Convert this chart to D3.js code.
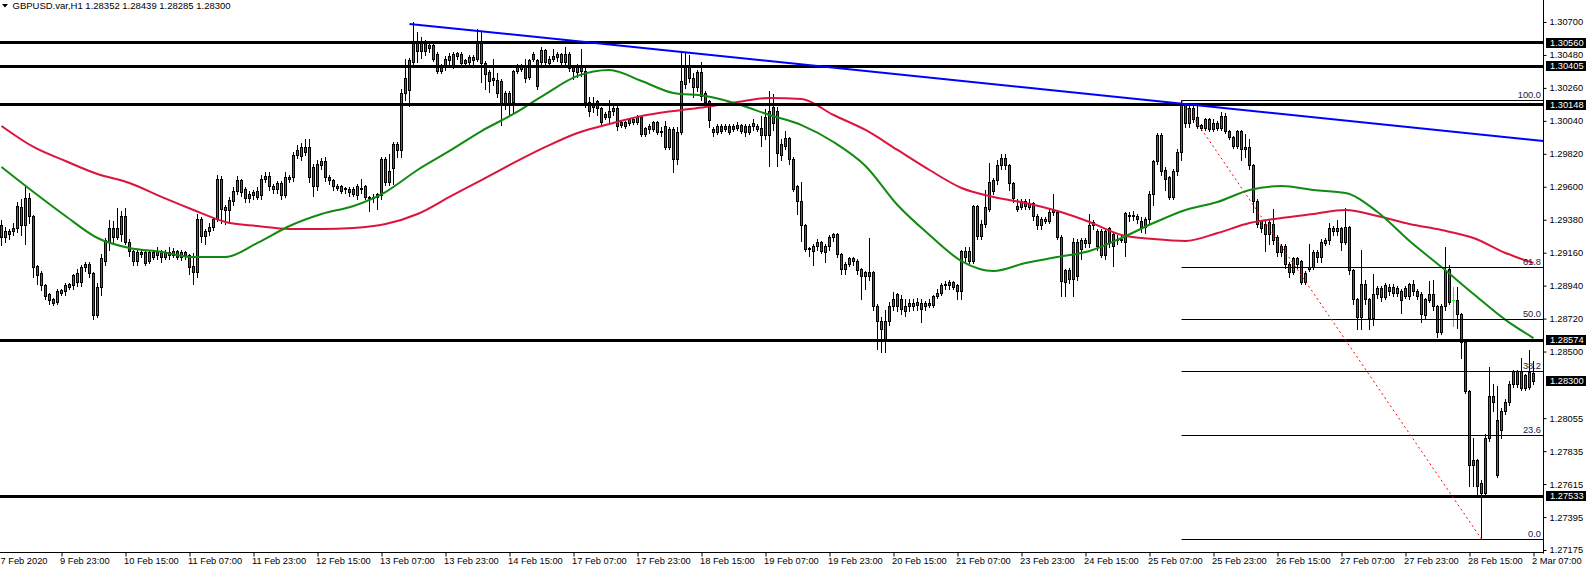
<!DOCTYPE html>
<html><head><meta charset="utf-8">
<script src="https://cdn.jsdelivr.net/npm/d3@7"></script>
<style>html,body{margin:0;padding:0;background:#fff;overflow:hidden}svg{display:block}</style>
</head><body><svg id="c" width="1586" height="568"></svg>
<script>
const open=[1.2934,1.2926,1.2928,1.2930,1.2932,1.2946,1.2934,1.2952,1.2940,1.2907,
1.2902,1.2894,1.2888,1.2885,1.2883,1.2889,1.2890,1.2893,1.2894,1.2896,
1.2896,1.2906,1.2908,1.2902,1.2874,1.2893,1.2910,1.2923,1.2932,1.2926,
1.2928,1.2940,1.2923,1.2917,1.2910,1.2915,1.2916,1.2910,1.2913,1.2914,
1.2916,1.2913,1.2916,1.2914,1.2917,1.2913,1.2916,1.2914,1.2907,1.2903,
1.2938,1.2927,1.2930,1.2933,1.2938,1.2965,1.2944,1.2944,1.2950,1.2957,
1.2964,1.2958,1.2955,1.2954,1.2953,1.2954,1.2965,1.2967,1.2958,1.2958,
1.2962,1.2954,1.2965,1.2966,1.2981,1.2980,1.2986,1.2986,1.2973,1.2960,
1.2974,1.2977,1.2966,1.2964,1.2959,1.2960,1.2958,1.2958,1.2955,1.2954,
1.2959,1.2960,1.2953,1.2952,1.2953,1.2954,1.2978,1.2963,1.2972,1.2988,
1.2984,1.3022,1.3024,1.3043,1.3056,1.3050,1.3056,1.3054,1.3054,1.3048,
1.3040,1.3040,1.3044,1.3048,1.3047,1.3048,1.3042,1.3043,1.3046,1.3045,
1.3057,1.3042,1.3036,1.3031,1.3031,1.3030,1.3015,1.3022,1.3016,1.3037,
1.3038,1.3040,1.3033,1.3048,1.3044,1.3043,1.3051,1.3042,1.3045,1.3046,
1.3048,1.3043,1.3048,1.3040,1.3036,1.3040,1.3037,1.3016,1.3013,1.3017,
1.3012,1.3008,1.3006,1.3010,1.3012,1.3003,1.3000,1.3002,1.3003,1.3003,
1.3006,1.2995,1.2998,1.2998,1.3003,1.2996,1.3000,1.2986,1.2998,1.2978,
1.2996,1.3028,1.3040,1.3032,1.3026,1.3036,1.3022,1.3017,1.2996,1.2996,
1.3000,1.2998,1.3000,1.2998,1.2999,1.3001,1.3000,1.2996,1.3000,1.2998,
1.2999,1.2994,1.3010,1.3002,1.3010,1.2981,1.2987,1.2992,1.2978,1.2960,
1.2950,1.2934,1.2919,1.2917,1.2920,1.2923,1.2916,1.2920,1.2926,1.2928,
1.2915,1.2905,1.2908,1.2912,1.2910,1.2905,1.2900,1.2903,1.2903,1.2880,
1.2870,1.2858,1.2870,1.2880,1.2880,1.2885,1.2877,1.2880,1.2880,1.2881,
1.2882,1.2880,1.2881,1.2881,1.2887,1.2889,1.2894,1.2894,1.2896,1.2894,
1.2890,1.2913,1.2917,1.2910,1.2947,1.2927,1.2935,1.2945,1.2957,1.2964,
1.2974,1.2979,1.2974,1.2962,1.2945,1.2946,1.2950,1.2946,1.2949,1.2940,
1.2934,1.2937,1.2937,1.2943,1.2943,1.2926,1.2904,1.2898,1.2898,1.2923,
1.2918,1.2922,1.2922,1.2934,1.2930,1.2930,1.2914,1.2932,1.2928,1.2924,
1.2924,1.2923,1.2940,1.2940,1.2938,1.2937,1.2933,1.2938,1.2955,1.2977,
1.2994,1.2971,1.2966,1.2953,1.2970,1.2983,1.3015,1.3002,1.3012,1.3006,
1.3001,1.2999,1.3005,1.2998,1.3002,1.2999,1.3007,1.2997,1.2993,1.2987,
1.2997,1.2985,1.2986,1.2974,1.2950,1.2937,1.2928,1.2928,1.2935,1.2926,
1.2920,1.2920,1.2908,1.2903,1.2912,1.2910,1.2896,1.2905,1.2906,1.2916,
1.2913,1.2922,1.2924,1.2930,1.2930,1.2932,1.2923,1.2933,1.2904,1.2885,
1.2873,1.2895,1.2885,1.2872,1.2888,1.2892,1.2886,1.2890,1.2893,1.2889,
1.2884,1.2887,1.2887,1.2890,1.2890,1.2888,1.2874,1.2884,1.2888,1.2880,
1.2863,1.2880,1.2905,1.2884,1.2884,1.2875,1.2856,1.2823,1.2774,1.2777,
1.2762,1.2755,1.2792,1.2820,1.2767,1.2797,1.2810,1.2816,1.2828,1.2837,
1.2837,1.2825,1.2826,1.28352];
const high=[1.2938,1.2933,1.2932,1.2936,1.2950,1.2952,1.2960,1.2956,1.2941,1.2908,
1.2904,1.2895,1.2889,1.2886,1.2892,1.2892,1.2896,1.2896,1.2902,1.2905,
1.2908,1.2910,1.2910,1.2903,1.2896,1.2915,1.2926,1.2938,1.2937,1.2946,
1.2944,1.2946,1.2925,1.2918,1.2918,1.2918,1.2918,1.2918,1.2918,1.2920,
1.2918,1.2918,1.2920,1.2919,1.2918,1.2918,1.2917,1.2915,1.2916,1.2942,
1.2940,1.2932,1.2936,1.2940,1.2968,1.2967,1.2948,1.2953,1.2960,1.2967,
1.2965,1.2960,1.2957,1.2958,1.2960,1.2968,1.2970,1.2970,1.2962,1.2964,
1.2964,1.2970,1.2968,1.2983,1.2988,1.2989,1.2992,1.2992,1.2975,1.2978,
1.2979,1.2980,1.2968,1.2965,1.2962,1.2961,1.2960,1.2960,1.2960,1.2962,
1.2965,1.2961,1.2954,1.2955,1.2956,1.2980,1.2980,1.2982,1.2990,1.2990,
1.3025,1.3045,1.3046,1.3070,1.3063,1.3060,1.3058,1.3057,1.3056,1.3050,
1.3042,1.3047,1.3049,1.3050,1.3050,1.3050,1.3045,1.3048,1.3048,1.3065,
1.3063,1.3044,1.3038,1.3045,1.3036,1.3032,1.3024,1.3024,1.3038,1.3042,
1.3042,1.3045,1.3045,1.3050,1.3045,1.3053,1.3052,1.3047,1.3052,1.3050,
1.3049,1.3053,1.3050,1.3041,1.3042,1.3052,1.3040,1.3020,1.3020,1.3018,
1.3013,1.3010,1.3018,1.3015,1.3014,1.3004,1.3004,1.3006,1.3006,1.3008,
1.3008,1.3000,1.3002,1.3004,1.3004,1.3000,1.3004,1.3000,1.3000,1.3000,
1.3050,1.3050,1.3048,1.3036,1.3038,1.3043,1.3024,1.3018,1.3000,1.3002,
1.3002,1.3002,1.3002,1.3002,1.3003,1.3002,1.3002,1.3002,1.3005,1.3002,
1.3007,1.3012,1.3024,1.3022,1.3013,1.2992,1.2997,1.2993,1.2980,1.2961,
1.2963,1.2935,1.2920,1.2922,1.2925,1.2924,1.2922,1.2928,1.2929,1.2929,
1.2916,1.2910,1.2913,1.2913,1.2912,1.2906,1.2904,1.2926,1.2904,1.2882,
1.2873,1.2878,1.2883,1.2890,1.2889,1.2888,1.2885,1.2885,1.2885,1.2886,
1.2885,1.2884,1.2885,1.2888,1.2892,1.2896,1.2897,1.2898,1.2897,1.2895,
1.2918,1.2920,1.2920,1.2948,1.2948,1.2938,1.2958,1.2976,1.2966,1.2978,
1.2982,1.2982,1.2975,1.2963,1.2952,1.2952,1.2952,1.2952,1.2950,1.2942,
1.2940,1.2940,1.2945,1.2955,1.2944,1.2928,1.2905,1.2906,1.2926,1.2925,
1.2926,1.2926,1.2942,1.2938,1.2932,1.2932,1.2932,1.2933,1.2930,1.2928,
1.2928,1.2943,1.2943,1.2944,1.2942,1.2940,1.2940,1.2957,1.2978,1.2996,
1.2996,1.2973,1.2967,1.2972,1.2985,1.30179,1.3016,1.3014,1.3014,1.3014,
1.3002,1.3006,1.3006,1.3005,1.3004,1.3010,1.3009,1.2998,1.2994,1.2998,
1.2998,1.2995,1.2992,1.2975,1.2952,1.2938,1.2937,1.2938,1.2945,1.2928,
1.2922,1.2922,1.2910,1.2913,1.2913,1.2911,1.2904,1.2922,1.2918,1.2918,
1.2925,1.2926,1.2936,1.2934,1.2938,1.2933,1.2946,1.2934,1.2905,1.2886,
1.2918,1.2898,1.2886,1.2902,1.2894,1.2894,1.2896,1.2895,1.2895,1.2894,
1.2892,1.2894,1.2896,1.2898,1.2892,1.2890,1.2886,1.2897,1.2898,1.2881,
1.2882,1.2920,1.2908,1.2893,1.2893,1.2876,1.2858,1.2824,1.2792,1.2778,
1.2764,1.2795,1.2840,1.2828,1.2827,1.2812,1.2818,1.2830,1.2838,1.2838,
1.2846,1.2835,1.2851,1.28439];
const low=[1.2921,1.2923,1.2925,1.2928,1.2930,1.2928,1.2922,1.2936,1.2900,1.2895,
1.2891,1.2885,1.2882,1.2881,1.2882,1.2888,1.2888,1.2892,1.2892,1.2894,
1.2894,1.2904,1.2900,1.2872,1.2873,1.2888,1.2908,1.2918,1.2922,1.2925,
1.2924,1.2922,1.2914,1.2908,1.2908,1.2913,1.2908,1.2909,1.2912,1.2912,
1.2910,1.2912,1.2912,1.2913,1.2912,1.2911,1.2912,1.2902,1.2895,1.2900,
1.2923,1.2922,1.2928,1.2931,1.2937,1.2936,1.2935,1.2936,1.2948,1.2955,
1.2954,1.2950,1.2950,1.2952,1.2952,1.2952,1.2963,1.2958,1.2956,1.2956,
1.2952,1.2953,1.2963,1.2964,1.2979,1.2978,1.2981,1.2963,1.2954,1.2958,
1.2972,1.2964,1.2962,1.2958,1.2958,1.2956,1.2956,1.2954,1.2954,1.2952,
1.2956,1.2952,1.2944,1.2950,1.2945,1.2952,1.2961,1.2961,1.2962,1.2980,
1.2980,1.3018,1.3014,1.3042,1.3043,1.3046,1.3048,1.3050,1.3044,1.3036,
1.3036,1.3038,1.3042,1.3039,1.3045,1.3040,1.3040,1.3042,1.3042,1.3044,
1.3030,1.3025,1.3023,1.3028,1.3020,1.3001,1.3012,1.3008,1.3010,1.3036,
1.3037,1.3030,1.3032,1.3044,1.3025,1.3042,1.3041,1.3040,1.3044,1.3044,
1.3042,1.3042,1.3037,1.3032,1.3033,1.3034,1.3013,1.3007,1.3010,1.3008,
1.3002,1.3005,1.3002,1.3008,1.2998,1.3000,1.2999,1.3001,1.3002,1.3002,
1.2994,1.2994,1.2996,1.2997,1.2995,1.2994,1.2985,1.2985,1.2970,1.2975,
1.2995,1.3026,1.3030,1.3020,1.3024,1.3018,1.3014,1.3000,1.2994,1.2995,
1.2996,1.2997,1.2995,1.2997,1.2998,1.2996,1.2994,1.2995,1.2998,1.2997,
1.2987,1.2992,1.2974,1.2998,1.2974,1.2978,1.2985,1.2975,1.2957,1.2942,
1.2924,1.2917,1.2914,1.2908,1.2918,1.2916,1.2910,1.2918,1.2924,1.2913,
1.2902,1.2902,1.2907,1.2908,1.2902,1.2885,1.2892,1.2898,1.2878,1.2852,
1.2850,1.2850,1.2868,1.2878,1.2877,1.2875,1.2874,1.2877,1.2878,1.2878,
1.2870,1.2878,1.2880,1.2880,1.2886,1.2888,1.2892,1.2892,1.2892,1.2885,
1.2885,1.2910,1.2909,1.2909,1.2925,1.2925,1.2933,1.2944,1.2955,1.2962,
1.2972,1.2972,1.2958,1.2950,1.2944,1.2945,1.2945,1.2945,1.2938,1.2932,
1.2932,1.2936,1.2936,1.2941,1.2925,1.2887,1.2887,1.2896,1.2887,1.2898,
1.2912,1.2920,1.2920,1.2932,1.2918,1.2913,1.2912,1.2920,1.2907,1.2922,
1.2923,1.2914,1.2937,1.2938,1.2936,1.2930,1.2929,1.2936,1.2948,1.2975,
1.2968,1.2958,1.2952,1.2952,1.2968,1.2978,1.3000,1.3000,1.3003,1.2999,
1.2998,1.2998,1.2997,1.2997,1.2998,1.2998,1.2996,1.2992,1.2986,1.2986,
1.2978,1.2980,1.2972,1.2943,1.2933,1.2930,1.2917,1.2922,1.2922,1.2914,
1.2914,1.2906,1.2900,1.2902,1.2906,1.2895,1.2895,1.2904,1.2905,1.2910,
1.2910,1.2921,1.2922,1.2928,1.2928,1.2918,1.2922,1.2902,1.2882,1.2865,
1.2865,1.2882,1.2865,1.2868,1.2886,1.2884,1.2885,1.2888,1.2887,1.2887,
1.2876,1.2886,1.2885,1.2888,1.2885,1.2870,1.2872,1.2883,1.2878,1.2860,
1.2862,1.2878,1.2882,1.2867,1.2866,1.2846,1.2822,1.2760,1.2760,1.2754,
1.27248,1.2754,1.2790,1.2810,1.2766,1.2792,1.2808,1.2814,1.2826,1.2826,
1.2824,1.2824,1.2825,1.28285];
const close=[1.2926,1.2930,1.2930,1.2932,1.2947,1.2934,1.2952,1.2940,1.2906,1.2901,
1.2894,1.2887,1.2884,1.2882,1.2890,1.2891,1.2894,1.2895,1.2901,1.2902,
1.2906,1.2908,1.2902,1.2874,1.2893,1.2912,1.2924,1.2932,1.2926,1.2932,
1.2940,1.2923,1.2917,1.2910,1.2916,1.2916,1.2909,1.2916,1.2916,1.2917,
1.2913,1.2916,1.2914,1.2917,1.2913,1.2916,1.2914,1.2906,1.2903,1.2938,
1.2927,1.2930,1.2933,1.2938,1.2965,1.2945,1.2946,1.2951,1.2957,1.2964,
1.2956,1.2952,1.2952,1.2956,1.2957,1.2965,1.2967,1.2960,1.2960,1.2962,
1.2954,1.2966,1.2966,1.2981,1.2984,1.2986,1.2983,1.2966,1.2960,1.2975,
1.2977,1.2966,1.2964,1.2960,1.2960,1.2957,1.2959,1.2956,1.2958,1.2960,
1.2958,1.2953,1.2952,1.2953,1.2955,1.2978,1.2963,1.2970,1.2988,1.2984,
1.3022,1.3032,1.3044,1.3056,1.3050,1.3056,1.3050,1.3052,1.3045,1.3037,
1.3037,1.3045,1.3047,1.3040,1.3049,1.3042,1.3044,1.3046,1.3044,1.3057,
1.3042,1.3035,1.3030,1.3032,1.3022,1.3015,1.3022,1.3015,1.3037,1.3040,
1.3040,1.3032,1.3044,1.3045,1.3027,1.3051,1.3043,1.3045,1.3047,1.3048,
1.3043,1.3048,1.3039,1.3037,1.3040,1.3037,1.3016,1.3010,1.3015,1.3012,
1.3003,1.3006,1.3010,1.3012,1.3000,1.3001,1.3003,1.3005,1.3005,1.3006,
1.2995,1.2999,1.3000,1.3003,1.2996,1.2997,1.2986,1.2998,1.2978,1.2996,
1.3030,1.3040,1.3032,1.3026,1.3036,1.3020,1.3016,1.3004,1.2998,1.3000,
1.2997,1.3000,1.2996,1.3000,1.3001,1.2997,1.2996,1.3000,1.3002,1.3000,
1.2994,1.3006,1.2994,1.3013,1.2982,1.2988,1.2992,1.2978,1.2958,1.2950,
1.2934,1.2918,1.2918,1.2920,1.2923,1.2917,1.2920,1.2926,1.2928,1.2915,
1.2905,1.2908,1.2912,1.2910,1.2904,1.2900,1.2903,1.2900,1.2880,1.2870,
1.2865,1.2870,1.2880,1.2885,1.2888,1.2878,1.2880,1.2882,1.2882,1.2883,
1.2878,1.2882,1.2882,1.2887,1.2889,1.2894,1.2895,1.2896,1.2893,1.2890,
1.2917,1.2917,1.2910,1.2947,1.2927,1.2935,1.2946,1.2963,1.2964,1.2974,
1.2979,1.2974,1.2962,1.2952,1.2947,1.2950,1.2947,1.2949,1.2940,1.2934,
1.2938,1.2938,1.2943,1.2944,1.2926,1.2897,1.2896,1.2904,1.2923,1.2900,
1.2924,1.2924,1.2934,1.2936,1.2920,1.2914,1.2930,1.2922,1.2920,1.2925,
1.2925,1.2942,1.2941,1.2941,1.2940,1.2933,1.2938,1.2955,1.2977,1.2994,
1.2970,1.2965,1.2953,1.2970,1.2983,1.3015,1.3002,1.3012,1.3005,1.3000,
1.2999,1.3005,1.2998,1.3002,1.2999,1.3007,1.2997,1.2993,1.2987,1.2997,
1.2985,1.2986,1.2974,1.2950,1.2935,1.2932,1.2935,1.2936,1.2924,1.2916,
1.2916,1.2908,1.2903,1.2912,1.2908,1.2896,1.2902,1.2906,1.2916,1.2913,
1.2923,1.2924,1.2932,1.2932,1.2932,1.2923,1.2933,1.2904,1.2885,1.2873,
1.2895,1.2885,1.2872,1.2888,1.2892,1.2886,1.2894,1.2893,1.2889,1.2892,
1.2890,1.2892,1.2895,1.2895,1.2887,1.2875,1.2885,1.2888,1.2880,1.2863,
1.2880,1.2904,1.2883,1.2884,1.2875,1.2856,1.2823,1.2774,1.2777,1.2760,
1.2755,1.2792,1.2820,1.2816,1.2804,1.2810,1.2816,1.2828,1.2837,1.2828,
1.2825,1.2834,1.2836,1.28300];

// moving averages, read every 8 bars
const maIdx=[0,8,16,24,32,40,48,56,64,72,80,88,96,104,112,120,128,136,144,152,160,168,176,184,192,200,208,216,224,232,240,248,256,264,272,280,288,296,304,312,320,328,336,344,352,360,368,376,383];
const maGreen=[1.29732,1.29565,1.29405,1.29258,1.29191,1.29165,1.29131,1.29131,1.29225,1.29338,1.29418,1.29472,1.29565,1.29712,1.29839,1.29972,1.30086,1.30219,1.30340,1.30380,1.30306,1.30226,1.30206,1.30153,1.30079,1.30012,1.29899,1.29739,1.29478,1.29278,1.29104,1.29038,1.29091,1.29131,1.29171,1.29258,1.29358,1.29445,1.29498,1.29578,1.29605,1.29578,1.29558,1.29432,1.29238,1.29064,1.28884,1.28711,1.28590];
const maRed=[1.30006,1.29866,1.29772,1.29685,1.29625,1.29532,1.29445,1.29365,1.29338,1.29318,1.29318,1.29325,1.29351,1.29418,1.29532,1.29645,1.29759,1.29866,1.29959,1.30019,1.30072,1.30106,1.30133,1.30166,1.30193,1.30186,1.30079,1.29979,1.29846,1.29712,1.29592,1.29532,1.29492,1.29438,1.29365,1.29278,1.29251,1.29238,1.29291,1.29358,1.29392,1.29418,1.29445,1.29405,1.29351,1.29311,1.29258,1.29158,1.29091];

const priceTicks=[1.30700,1.30480,1.30260,1.30040,1.29820,1.29600,1.29380,1.29160,1.28940,1.28720,1.28500,1.28055,1.27835,1.27615,1.27395,1.27175];
const levelLines=[1.30560,1.30405,1.30148,1.28574,1.27533];
const lastPrice=1.28300;
const dateIdx=[-1,15,31,47,63,79,95,111,127,143,159,175,191,207,223,239,255,271,287,303,319,335,351,367,383];
const dateLabels=["7 Feb 2020","9 Feb 23:00","10 Feb 15:00","11 Feb 07:00","11 Feb 23:00","12 Feb 15:00","13 Feb 07:00","13 Feb 23:00","14 Feb 15:00","17 Feb 07:00","17 Feb 23:00","18 Feb 15:00","19 Feb 07:00","19 Feb 23:00","20 Feb 15:00","21 Feb 07:00","23 Feb 23:00","24 Feb 15:00","25 Feb 07:00","25 Feb 23:00","26 Feb 15:00","27 Feb 07:00","27 Feb 23:00","28 Feb 15:00","2 Mar 07:00"];
const fibRatios=[0,0.236,0.382,0.5,0.618,1];
const fibLabels=["0.0","23.6","38.2","50.0","61.8","100.0"];
const fibAnchorIdx=[295,370];
const fibAnchorPrice=[1.30179,1.27248];
const trendIdx=[102,295];
const trendPrice=[1.30687,1.30155];
const title="GBPUSD.var,H1  1.28352 1.28439 1.28285 1.28300";

const N=open.length;
const plotR=1543.5, plotB=552.5;
const FONT="'Liberation Sans', Arial, sans-serif";
const x=d3.scaleLinear().domain([0,N-1]).range([1.5,1533.5]);
const y=d3.scaleLinear().domain([1.27175,1.30700]).range([550,22]);
const svg=d3.select("#c");
svg.append("rect").attr("width",1586).attr("height",568).attr("fill","#fff");
svg.append("defs").append("clipPath").attr("id","clip").append("rect").attr("x",0).attr("y",0).attr("width",plotR).attr("height",plotB);
const plot=svg.append("g").attr("clip-path","url(#clip)");
const crisp=v=>Math.round(v-0.5)+0.5;

// candles
const idx=d3.range(N);
const cg=plot.append("g");
cg.selectAll("line.w").data(idx).join("line").attr("class","w")
 .attr("x1",i=>x(i)).attr("x2",i=>x(i))
 .attr("y1",i=>Math.round(y(high[i]))).attr("y2",i=>Math.round(y(low[i]))+1)
 .attr("stroke",i=>open[i]===close[i]?"#00ff00":"#000").attr("stroke-width",1);
cg.selectAll("rect.b").data(idx.filter(i=>open[i]!==close[i])).join("rect").attr("class","b")
 .attr("x",i=>x(i)-1).attr("width",2)
 .attr("y",i=>crisp(y(Math.max(open[i],close[i]))))
 .attr("height",i=>Math.max(1,crisp(y(Math.min(open[i],close[i])))-crisp(y(Math.max(open[i],close[i])))))
 .attr("fill",i=>close[i]>open[i]?"#1e8c1e":"#b0302a")
 .attr("stroke","#000").attr("stroke-width",1);
cg.selectAll("line.d").data(idx.filter(i=>open[i]===close[i])).join("line").attr("class","d")
 .attr("x1",i=>x(i)-1.5).attr("x2",i=>x(i)+1.5)
 .attr("y1",i=>crisp(y(open[i]))).attr("y2",i=>crisp(y(open[i])))
 .attr("stroke","#00ff00").attr("stroke-width",1);

// moving averages
const ma=d3.line().x((d,k)=>x(maIdx[k])).y(d=>y(d)).curve(d3.curveMonotoneX);
plot.append("path").attr("d",ma(maRed)).attr("fill","none").attr("stroke","#dc143c").attr("stroke-width",2);
plot.append("path").attr("d",ma(maGreen)).attr("fill","none").attr("stroke","#108a10").attr("stroke-width",2);

// horizontal levels
plot.selectAll("line.lv").data(levelLines).join("line").attr("class","lv")
 .attr("x1",0).attr("x2",plotR).attr("y1",d=>crisp(y(d))).attr("y2",d=>crisp(y(d)))
 .attr("stroke","#000").attr("stroke-width",3);

// fibonacci
const fibLo=fibAnchorPrice[1], fibHi=fibAnchorPrice[0];
const fibP=fibRatios.map(r=>fibLo+r*(fibHi-fibLo));
plot.selectAll("line.fib").data(fibP).join("line").attr("class","fib")
 .attr("x1",x(fibAnchorIdx[0])).attr("x2",plotR)
 .attr("y1",d=>crisp(y(d))).attr("y2",d=>crisp(y(d)))
 .attr("stroke","#000").attr("stroke-width",1);
plot.selectAll("text.fib").data(fibP).join("text").attr("class","fib")
 .attr("x",1541).attr("y",d=>crisp(y(d))-2.5).attr("text-anchor","end")
 .attr("font-family",FONT).attr("font-size",9.3).attr("fill","#202048")
 .text((d,k)=>fibLabels[k]);
plot.append("line")
 .attr("x1",x(fibAnchorIdx[0])).attr("y1",y(fibAnchorPrice[0]))
 .attr("x2",x(fibAnchorIdx[1])).attr("y2",y(fibAnchorPrice[1]))
 .attr("stroke","#ff0000").attr("stroke-width",1).attr("stroke-dasharray","2 3");

// trend line (ray)
const tEnd=x.invert(plotR);
const tP=trendPrice[0]+(trendPrice[1]-trendPrice[0])*(tEnd-trendIdx[0])/(trendIdx[1]-trendIdx[0]);
plot.append("line").attr("x1",x(trendIdx[0])).attr("y1",y(trendPrice[0]))
 .attr("x2",plotR).attr("y2",y(tP)).attr("stroke","#0000ff").attr("stroke-width",2);

// frame
svg.append("line").attr("x1",plotR).attr("x2",plotR).attr("y1",0).attr("y2",plotB+1).attr("stroke","#000");
svg.append("line").attr("x1",0).attr("x2",plotR).attr("y1",plotB).attr("y2",plotB).attr("stroke","#000");

// price axis
const ay=svg.append("g").attr("transform",`translate(${plotR},0)`)
 .call(d3.axisRight(y).tickValues(priceTicks).tickSize(3).tickPadding(3).tickFormat(d3.format(".5f")));
ay.select(".domain").remove();
ay.selectAll("text").attr("font-family",FONT).attr("font-size",9.3).attr("fill","#000");
ay.selectAll("line").attr("stroke","#000");

// highlighted price boxes
const hl=levelLines.concat([lastPrice]);
const hg=svg.append("g").selectAll("g").data(hl).join("g").attr("transform",d=>`translate(0,${Math.round(y(d))})`);
hg.append("rect").attr("x",1546).attr("y",-5).attr("width",40).attr("height",10).attr("fill","#000");
hg.append("text").attr("x",1550).attr("y",0).attr("dy","0.35em").attr("font-family",FONT).attr("font-size",9.3).attr("fill","#fff").text(d=>d3.format(".5f")(d));

// time axis
const ax=svg.append("g").attr("transform",`translate(0,${plotB})`)
 .call(d3.axisBottom(x).tickValues(dateIdx).tickSize(4).tickPadding(1).tickFormat((d,k)=>dateLabels[k]));
ax.select(".domain").remove();
ax.selectAll("line").attr("stroke","#000");
ax.selectAll("text").attr("text-anchor","start").attr("font-family",FONT).attr("font-size",9.3).attr("fill","#000")
 .attr("dx",d=>x(d)-2<0?-x(d):-2);

// title
svg.append("path").attr("d","M2,4 L8,4 L5,7.5 Z").attr("fill","#000");
svg.append("text").attr("x",12.5).attr("y",8.5).attr("font-family",FONT).attr("font-size",9.5).attr("fill","#000").text(title);
</script></body></html>
